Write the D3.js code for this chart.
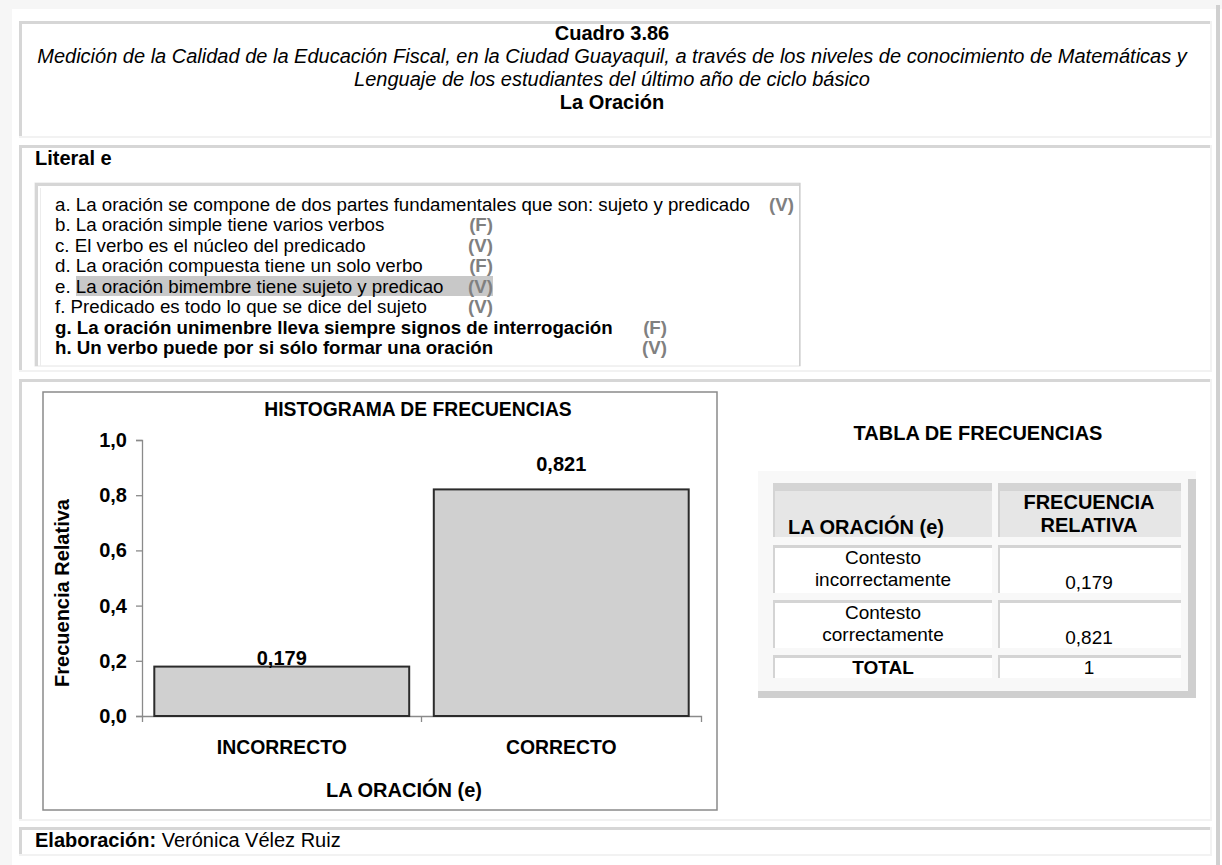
<!DOCTYPE html>
<html>
<head>
<meta charset="utf-8">
<script src="https://cdn.jsdelivr.net/npm/d3@7"></script>
<style>
  body { margin: 0; background: #ffffff; }
  svg text { font-family: "Liberation Sans", Arial, sans-serif; fill: #000; }
</style>
</head>
<body>
<div id="page"></div>
<script>
// ---- data ----
const categories = ["INCORRECTO", "CORRECTO"];
const values = [0.179, 0.821];
const yTicks = [0, 0.2, 0.4, 0.6, 0.8, 1.0];

const statements = [
  "a. La oración se compone de dos partes fundamentales que son: sujeto y predicado",
  "b. La oración simple tiene varios verbos",
  "c. El verbo es el núcleo del predicado",
  "d. La oración compuesta tiene un solo verbo",
  "e. La oración bimembre tiene sujeto y predicao",
  "f. Predicado es todo lo que se dice del sujeto",
  "g. La oración unimenbre lleva siempre signos de interrogación",
  "h. Un verbo puede por si sólo formar una oración"
];
const answers = ["V", "F", "V", "F", "V", "V", "F", "V"];
const boldRows = [false, false, false, false, false, false, true, true];
const selectedRow = 4;

const tableRowLabels = [["Contesto", "incorrectamente"], ["Contesto", "correctamente"]];
const tableHeaders = [["LA ORACIÓN (e)"], ["FRECUENCIA", "RELATIVA"]];

const titleLines = [
  "Cuadro 3.86",
  "Medición de la Calidad de la Educación Fiscal, en la Ciudad Guayaquil, a través de los niveles de conocimiento de Matemáticas y",
  "Lenguaje de los estudiantes del último año de ciclo básico",
  "La Oración"
];

// comma decimal, like the original
const locale = d3.formatLocale({ decimal: ",", thousands: ".", grouping: [3], currency: ["", ""] });
const fmt1 = locale.format(".1f");
const fmt3 = locale.format(".3f");

const W = 1222, H = 865;
const svg = d3.select("#page").append("svg")
  .attr("width", W).attr("height", H);

// page background strips
svg.append("rect").attr("x", 0).attr("y", 0).attr("width", W).attr("height", H).attr("fill", "#ffffff");
svg.append("rect").attr("x", 0).attr("y", 0).attr("width", W).attr("height", 9).attr("fill", "#f6f6f6");
svg.append("rect").attr("x", 0).attr("y", 0).attr("width", 12).attr("height", H).attr("fill", "#f6f6f6");
svg.append("rect").attr("x", 1216).attr("y", 5).attr("width", 4).attr("height", H).attr("fill", "#d0d0d0");

// panel with grooved border (dark top/left, light bottom/right)
function panel(x, y, w, h) {
  const g = svg.append("g");
  g.append("rect").attr("x", x).attr("y", y).attr("width", w).attr("height", h).attr("fill", "#ffffff");
  g.append("rect").attr("x", x).attr("y", y).attr("width", w).attr("height", 3).attr("fill", "#d6d6d6");
  g.append("rect").attr("x", x).attr("y", y).attr("width", 3).attr("height", h).attr("fill", "#d6d6d6");
  g.append("rect").attr("x", x).attr("y", y + h - 2).attr("width", w).attr("height", 2).attr("fill", "#f2f2f2");
  g.append("rect").attr("x", x + w - 2).attr("y", y).attr("width", 2).attr("height", h).attr("fill", "#f2f2f2");
  return g;
}

panel(19, 21, 1193, 117);
panel(19, 145, 1193, 227);
panel(19, 379, 1193, 442);
panel(19, 827, 1193, 29);

// ---- title ----
const titleG = svg.append("g").attr("text-anchor", "middle");
titleLines.forEach((t, i) => {
  titleG.append("text")
    .attr("x", 612).attr("y", 33 + i * 23).attr("dy", "0.35em")
    .style("font-size", "20px")
    .style("font-weight", (i === 0 || i === 3) ? "bold" : "normal")
    .style("font-style", (i === 1 || i === 2) ? "italic" : "normal")
    .text(t);
});

svg.append("text").attr("x", 35).attr("y", 158).attr("dy", "0.35em")
  .style("font-size", "20px").style("font-weight", "bold").text("Literal e");

// ---- statement list ----
const listBox = svg.append("g");
listBox.append("rect").attr("x", 35).attr("y", 183).attr("width", 765).attr("height", 183).attr("fill", "#ffffff")
  .attr("stroke", "#e4e4e4").attr("stroke-width", 1);
listBox.append("rect").attr("x", 35).attr("y", 183).attr("width", 765).attr("height", 3).attr("fill", "#d6d6d6");
listBox.append("rect").attr("x", 35).attr("y", 183).attr("width", 3).attr("height", 183).attr("fill", "#d6d6d6");
listBox.append("rect").attr("x", 40).attr("y", 188).attr("width", 1).attr("height", 178).attr("fill", "#ececec");
listBox.append("rect").attr("x", 799).attr("y", 183).attr("width", 1.5).attr("height", 183).attr("fill", "#cfcfcf");

const rowStep = 20.5, rowY0 = 204;
const markEnd = [794, 493, 493, 493, 493, 493, 667, 667];

listBox.append("rect")
  .attr("x", 76).attr("y", rowY0 + selectedRow * rowStep - 10)
  .attr("width", 417).attr("height", 20).attr("fill", "#c8c8c8");

statements.forEach((s, i) => {
  const y = rowY0 + i * rowStep;
  listBox.append("text").attr("x", 55).attr("y", y).attr("dy", "0.35em")
    .style("font-size", "18.7px").style("font-weight", boldRows[i] ? "bold" : "normal")
    .text(s);
  listBox.append("text").attr("x", markEnd[i]).attr("y", y).attr("dy", "0.35em")
    .attr("text-anchor", "end")
    .style("font-size", "18.7px").style("font-weight", "bold").style("fill", "#808080")
    .text("(" + answers[i] + ")");
});

// ---- histogram ----
const chart = svg.append("g");
chart.append("rect").attr("x", 43).attr("y", 392).attr("width", 674).attr("height", 418)
  .attr("fill", "#ffffff").attr("stroke", "#8a8a8a").attr("stroke-width", 1.5);

const y = d3.scaleLinear().domain([0, 1]).range([716, 440]);
const x = d3.scaleBand().domain(categories).range([142, 701]).paddingInner(0.088).paddingOuter(0.044);

chart.append("text").attr("x", 418).attr("y", 409).attr("dy", "0.35em").attr("text-anchor", "middle")
  .style("font-size", "19.3px").style("font-weight", "bold")
  .text("HISTOGRAMA DE FRECUENCIAS");

const yAxis = chart.append("g").attr("transform", "translate(142,0)")
  .call(d3.axisLeft(y).tickValues(yTicks).tickFormat(fmt1).tickSize(6).tickPadding(9));
yAxis.selectAll("path, line").attr("stroke", "#8a8a8a").attr("stroke-width", 1.3);
yAxis.selectAll("text").style("font-size", "20px").style("font-weight", "bold")
  .style("font-family", "'Liberation Sans', Arial, sans-serif").attr("fill", "#000");

const xAxis = chart.append("g").attr("transform", "translate(0,716)")
  .call(d3.axisBottom(x).tickSize(0).tickSizeOuter(6).tickPadding(24));
xAxis.selectAll("path").attr("stroke", "#8a8a8a").attr("stroke-width", 1.3);
xAxis.selectAll("text").style("font-size", "19.4px").style("font-weight", "bold")
  .style("font-family", "'Liberation Sans', Arial, sans-serif").attr("fill", "#000");
// tick marks between categories
categories.slice(1).forEach(c => {
  const bx = x(c) - x.step() * x.paddingOuter();
  xAxis.append("line").attr("x1", bx).attr("x2", bx).attr("y1", 0).attr("y2", 6)
    .attr("stroke", "#8a8a8a").attr("stroke-width", 1.3);
});

chart.selectAll("rect.bar").data(values).join("rect")
  .attr("class", "bar")
  .attr("x", (d, i) => x(categories[i]))
  .attr("y", d => y(d))
  .attr("width", x.bandwidth())
  .attr("height", d => y(0) - y(d))
  .attr("fill", "#d0d0d0")
  .attr("stroke", "#2b2b2b")
  .attr("stroke-width", 2);

// label gaps above each bar as placed in the original
const labelGap = [9, 25];
chart.selectAll("text.val").data(values).join("text")
  .attr("class", "val")
  .attr("x", (d, i) => x(categories[i]) + x.bandwidth() / 2)
  .attr("y", (d, i) => y(d) - labelGap[i]).attr("dy", "0.35em")
  .attr("text-anchor", "middle")
  .style("font-size", "20px").style("font-weight", "bold")
  .text(d => fmt3(d));

chart.append("text").attr("x", 404).attr("y", 790).attr("dy", "0.35em").attr("text-anchor", "middle")
  .style("font-size", "20px").style("font-weight", "bold").text("LA ORACIÓN (e)");

chart.append("text").attr("transform", "translate(62,593) rotate(-90)").attr("dy", "0.35em")
  .attr("text-anchor", "middle")
  .style("font-size", "20px").style("font-weight", "bold").text("Frecuencia Relativa");

// ---- frequency table ----
const tab = svg.append("g");
tab.append("text").attr("x", 978).attr("y", 433).attr("dy", "0.35em").attr("text-anchor", "middle")
  .style("font-size", "20px").style("font-weight", "bold").text("TABLA DE FRECUENCIAS");

tab.append("rect").attr("x", 758).attr("y", 471).attr("width", 438).attr("height", 227).attr("fill", "#f8f8f8");
tab.append("rect").attr("x", 1188).attr("y", 479).attr("width", 8).attr("height", 219).attr("fill", "#cfcfcf");
tab.append("rect").attr("x", 758).attr("y", 691).attr("width", 438).attr("height", 7).attr("fill", "#cfcfcf");

const cols = [{ x: 773, w: 219 }, { x: 998, w: 183 }];
const total = Math.round(d3.sum(values) * 1000) / 1000;

function cell(c, y0, h, fill) {
  tab.append("rect").attr("x", c.x).attr("y", y0).attr("width", c.w).attr("height", h).attr("fill", fill);
  tab.append("rect").attr("x", c.x).attr("y", y0).attr("width", c.w).attr("height", 3).attr("fill", "#d4d4d4");
  tab.append("rect").attr("x", c.x).attr("y", y0).attr("width", 2).attr("height", h).attr("fill", "#d4d4d4");
}

// header
cols.forEach(c => {
  cell(c, 483, 54, "#e6e6e6");
  tab.append("rect").attr("x", c.x).attr("y", 483).attr("width", c.w).attr("height", 8).attr("fill", "#d4d4d4");
});
tab.append("text").attr("x", 788).attr("y", 527).attr("dy", "0.35em")
  .style("font-size", "20px").style("font-weight", "bold").text(tableHeaders[0][0]);
tableHeaders[1].forEach((t, i) => {
  tab.append("text").attr("x", 1089).attr("y", 502 + i * 23).attr("dy", "0.35em").attr("text-anchor", "middle")
    .style("font-size", "20px").style("font-weight", "bold").text(t);
});

// body rows
const rowTops = [545, 600];
tableRowLabels.forEach((lab, r) => {
  const top = rowTops[r];
  cols.forEach(c => cell(c, top, 48, "#ffffff"));
  lab.forEach((t, k) => {
    tab.append("text").attr("x", 883).attr("y", top + 12 + k * 22).attr("dy", "0.35em").attr("text-anchor", "middle")
      .style("font-size", "19px").text(t);
  });
  tab.append("text").attr("x", 1089).attr("y", top + 37).attr("dy", "0.35em").attr("text-anchor", "middle")
    .style("font-size", "19px").text(fmt3(values[r]));
});

// total row
cols.forEach(c => cell(c, 655, 23, "#ffffff"));
tab.append("text").attr("x", 883).attr("y", 667).attr("dy", "0.35em").attr("text-anchor", "middle")
  .style("font-size", "19px").style("font-weight", "bold").text("TOTAL");
tab.append("text").attr("x", 1089).attr("y", 667).attr("dy", "0.35em").attr("text-anchor", "middle")
  .style("font-size", "19px").text(total);

// ---- footer ----
const foot = svg.append("text").attr("x", 35).attr("y", 840).attr("dy", "0.35em").style("font-size", "20px");
foot.append("tspan").style("font-weight", "bold").text("Elaboración:");
foot.append("tspan").text(" Verónica Vélez Ruiz");
</script>
</body>
</html>
